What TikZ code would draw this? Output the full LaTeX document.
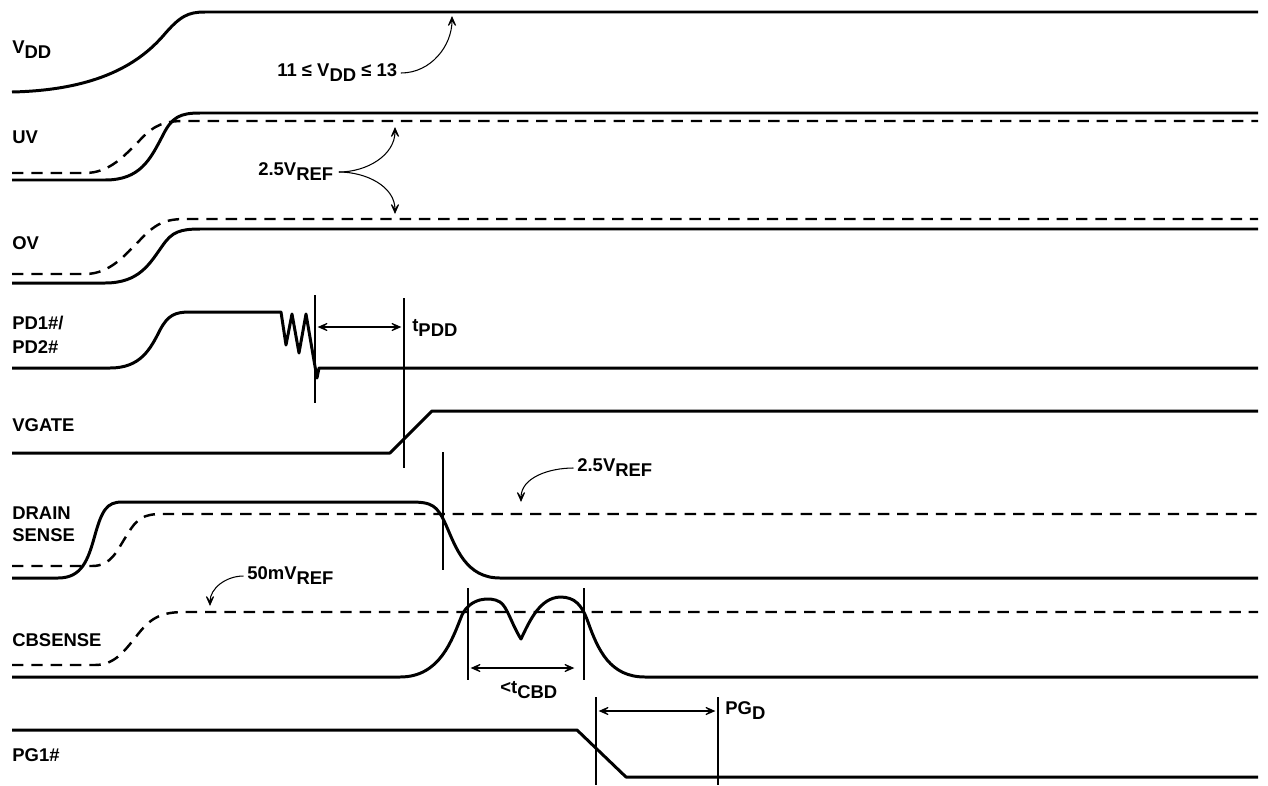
\documentclass[tikz,border=0pt]{standalone}
\usepackage{fontspec}
\setmainfont{Liberation Sans}
\usetikzlibrary{arrows.meta}
\newcommand{\lo}[1]{\raisebox{-2.8pt}{#1}}
\begin{document}
\begin{tikzpicture}[x=0.02cm, y=-0.02cm]
	\tikzstyle{sig}=[line width=1.7pt, line join=round]
	\tikzstyle{thr}=[line width=1.4pt, dash pattern=on 6.5pt off 4.5pt]
	\tikzstyle{guide}=[line width=0.6pt]
	\tikzstyle{dimarrow}=[line width=0.6pt, {Stealth[length=8pt, width=7pt, inset=5pt]}-{Stealth[length=8pt, width=7pt, inset=5pt]}, shorten <=1.5pt, shorten >=1.5pt]
	\tikzstyle{callout}=[line width=0.6pt, -{Stealth[length=8pt, width=7pt, inset=5pt]}]
	\tikzstyle{lbl}=[font=\bfseries\fontsize{10.5}{12.5}\selectfont, inner sep=0pt, anchor=west, align=left]
	\useasboundingbox (0, 0) rectangle (1268, 785);

	% signal names
	\draw node[lbl] at (12, 50) (vdd) {V\lo{DD}};
	\draw node[lbl] at (12, 137) (uv) {UV};
	\draw node[lbl] at (12, 243) (ov) {OV};
	\draw node[lbl] at (12, 335) (pd) {PD1\#/\\[1.5pt]PD2\#};
	\draw node[lbl] at (12, 425) (vgate) {VGATE};
	\draw node[lbl] at (12, 524) (drain) {DRAIN\\SENSE};
	\draw node[lbl] at (12, 640) (cbsense) {CBSENSE};
	\draw node[lbl] at (12, 755) (pg) {PG1\#};

	% waveforms
	\draw [sig] (12, 92) .. controls (100, 90) and (140, 62) .. (163, 36) .. controls (180, 16) and (188, 12) .. (205, 12) -- (1258, 12);

	\draw [thr] (12, 173) -- (85, 173) .. controls (110, 173) and (125, 155) .. (140, 140) .. controls (155, 124) and (165, 121) .. (185, 121) -- (1258, 121);
	\draw [sig] (12, 180) -- (105, 180) .. controls (140, 180) and (150, 160) .. (163, 135) .. controls (172, 117) and (180, 113) .. (200, 113) -- (1258, 113);

	\draw [thr] (12, 274) -- (85, 274) .. controls (110, 274) and (125, 255) .. (140, 240) .. controls (155, 224) and (165, 219) .. (185, 219) -- (1258, 219);
	\draw [sig] (12, 283) -- (105, 283) .. controls (140, 283) and (150, 263) .. (163, 245) .. controls (172, 232) and (180, 229) .. (200, 229) -- (1258, 229);

	\draw [sig] (12, 368) -- (110, 368) .. controls (140, 368) and (150, 350) .. (160, 330) .. controls (168, 315) and (175, 312) .. (190, 312) -- (281, 312) -- (286, 345) -- (292, 314) -- (299, 353) -- (306, 314) -- (317, 378) -- (319, 368) -- (1258, 368);

	\draw [sig] (12, 453) -- (390, 453) -- (432, 411) -- (1258, 411);

	\draw [thr] (12, 566) -- (92, 566) .. controls (112, 566) and (117, 550) .. (127, 535) .. controls (137, 518) and (144, 514) .. (162, 514) -- (1258, 514);
	\draw [sig] (12, 578) -- (58, 578) .. controls (82, 578) and (88, 560) .. (95, 535) .. controls (102, 510) and (107, 502) .. (122, 502) -- (410, 502) .. controls (432, 502) and (437, 505) .. (446, 525) .. controls (456, 548) and (466, 578) .. (500, 578) -- (1258, 578);

	\draw [thr] (12, 665) -- (95, 665) .. controls (115, 665) and (125, 650) .. (135, 638) .. controls (150, 618) and (160, 612) .. (185, 612) -- (1258, 612);
	\draw [sig] (12, 677) -- (400, 677) .. controls (440, 677) and (452, 640) .. (462, 615) .. controls (470, 598) and (490, 596) .. (500, 602) .. controls (507, 606) and (512, 625) .. (521, 639) .. controls (530, 620) and (540, 598) .. (560, 597) .. controls (575, 597) and (582, 605) .. (588, 622) .. controls (598, 650) and (610, 677) .. (645, 677) -- (1258, 677);

	\draw [sig] (12, 730) -- (577, 730) -- (626, 777) -- (1258, 777);

	% timing markers
	\coordinate (pdoff) at (315, 295);   \coordinate (pdoffb) at (315, 403);
	\coordinate (gateon) at (404, 298);  \coordinate (gateonb) at (404, 468);
	\coordinate (drop) at (443, 452);    \coordinate (dropb) at (443, 570);
	\coordinate (cbA) at (468, 588);     \coordinate (cbAb) at (468, 680);
	\coordinate (cbB) at (584, 588);     \coordinate (cbBb) at (584, 680);
	\coordinate (pgA) at (596, 697);     \coordinate (pgAb) at (596, 785);
	\coordinate (pgB) at (718, 697);     \coordinate (pgBb) at (718, 785);
	\foreach \a/\b in {pdoff/pdoffb, gateon/gateonb, drop/dropb, cbA/cbAb, cbB/cbBb, pgA/pgAb, pgB/pgBb}
		\draw [guide] (\a) -- (\b);

	\draw [dimarrow] (pdoff |- 0, 327) -- (gateon |- 0, 327);
	\draw node[lbl] at (412, 328) (tpdd) {t\lo{PDD}};
	\draw [dimarrow] (cbA |- 0, 668) -- ([xshift=-4pt]cbB |- 0, 668);
	\draw node[lbl] at (500, 690) (tcbd) {<t\lo{CBD}};
	\draw [dimarrow] (pgA |- 0, 711) -- (pgB |- 0, 711);
	\draw node[lbl] at (725, 711) (pgd) {PG\lo{D}};

	% threshold callouts
	\draw node[lbl] at (277, 73) (vddrange) {11 ≤ V\lo{DD} ≤ 13};
	\coordinate (vddtip) at (452, 16);
	\draw [callout] ([xshift=2pt]vddrange.east) to[out=0, in=-90] (vddtip);

	\draw node[lbl] at (258, 172) (uvref) {2.5V\lo{REF}};
	\coordinate (uvtip) at (395, 127);
	\coordinate (ovtip) at (395, 214);
	\draw [callout] ([xshift=3pt]uvref.east) to[out=0, in=-90] (uvtip);
	\draw [callout] ([xshift=3pt]uvref.east) to[out=0, in=90] (ovtip);

	\draw node[lbl] at (577, 468) (drref) {2.5V\lo{REF}};
	\coordinate (drtip) at (521, 502);
	\draw [callout] ([xshift=-2pt]drref.west) to[out=180, in=90] (drtip);

	\draw node[lbl] at (247, 576) (cbref) {50mV\lo{REF}};
	\coordinate (cbtip) at (210, 606);
	\draw [callout] ([xshift=-2pt]cbref.west) to[out=180, in=90] (cbtip);
\end{tikzpicture}
\end{document}
